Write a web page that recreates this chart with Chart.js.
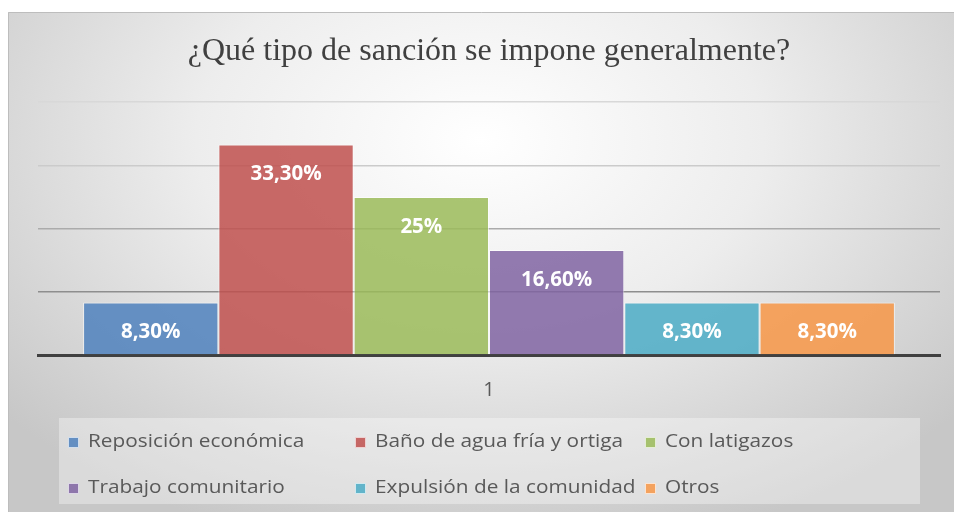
<!DOCTYPE html>
<html>
<head>
<meta charset="utf-8">
<script src="https://cdn.jsdelivr.net/npm/chart.js@4"></script>
<style>
  html, body { margin: 0; padding: 0; background: #d2d2d2; overflow: hidden; }
  #chart { display: block; width: 954px; height: 512px; }
</style>
</head>
<body>
<canvas id="chart" width="954" height="512"></canvas>
<script>
// data
const categories = ['1'];
const seriesNames = ['Reposición económica', 'Baño de agua fría y ortiga', 'Con latigazos',
  'Trabajo comunitario', 'Expulsión de la comunidad', 'Otros'];
const seriesValues = [0.083, 0.333, 0.25, 0.166, 0.083, 0.083];
const seriesColors = ['rgba(79,129,189,0.85)', 'rgba(192,80,77,0.85)', 'rgba(155,187,89,0.85)',
  'rgba(128,100,162,0.85)', 'rgba(75,172,198,0.85)', 'rgba(247,150,70,0.85)'];
const yTicks = [0, 0.1, 0.2, 0.3, 0.4];
const titleText = '¿Qué tipo de sanción se impone generalmente?';

const gridColors = { 0.1: '#8e8e8e', 0.2: '#ababab', 0.3: '#cbcbcb', 0.4: '#d8d8d8' };

function pctLabel(v) {
  const p = Math.round(v * 1000) / 10;
  if (Number.isInteger(p)) return p + '%';
  return p.toFixed(2).replace('.', ',') + '%';
}

// gray frame with a soft radial light, drawn under everything
const backgroundPlugin = {
  id: 'bg',
  beforeDraw(chart) {
    const ctx = chart.ctx;
    const w = chart.width, h = chart.height;
    ctx.save();
    ctx.fillStyle = '#ffffff';
    ctx.fillRect(0, 0, w, h);
    ctx.beginPath();
    ctx.rect(8, 12, w, h);
    ctx.clip();
    ctx.translate(480, 140);
    ctx.scale(1.5, 1);
    const g = ctx.createRadialGradient(0, 0, 0, 0, 0, 420);
    g.addColorStop(0, '#ffffff');
    g.addColorStop(0.45, '#ededed');
    g.addColorStop(1, '#c7c7c7');
    ctx.fillStyle = g;
    ctx.fillRect(-2000, -2000, 4000, 4000);
    ctx.restore();
    ctx.save();
    ctx.strokeStyle = '#bdbdbd';
    ctx.lineWidth = 1;
    ctx.beginPath();
    ctx.moveTo(8.5, h);
    ctx.lineTo(8.5, 12.5);
    ctx.lineTo(w, 12.5);
    ctx.stroke();
    ctx.restore();

    // title
    ctx.save();
    ctx.fillStyle = '#404040';
    ctx.font = '32px "Liberation Serif", "Times New Roman", serif';
    ctx.textAlign = 'center';
    ctx.textBaseline = 'alphabetic';
    ctx.fillText(titleText, (chart.chartArea.left + chart.chartArea.right) / 2, 60);
    ctx.restore();
  }
};

// value labels inside the top of each bar
const valueLabelPlugin = {
  id: 'valueLabels',
  afterDatasetsDraw(chart) {
    const ctx = chart.ctx;
    ctx.save();
    ctx.fillStyle = '#ffffff';
    ctx.font = 'bold 20.5px "Open Sans", sans-serif';
    ctx.textAlign = 'center';
    ctx.textBaseline = 'middle';
    chart.data.datasets.forEach((ds, i) => {
      chart.getDatasetMeta(i).data.forEach((bar, j) => {
        ctx.fillText(pctLabel(ds.data[j]), bar.x, bar.y + 30);
      });
    });
    ctx.restore();
  }
};

// legend laid out in fixed columns inside a light box
const legendPlugin = {
  id: 'boxLegend',
  afterDraw(chart) {
    const ctx = chart.ctx;
    ctx.save();
    ctx.fillStyle = 'rgba(255,255,255,0.35)';
    ctx.fillRect(59, 418, 861, 86);
    const cols = [68, 355, 645];
    const rows = [442, 488];
    ctx.font = '19px "Open Sans", sans-serif';
    ctx.textBaseline = 'middle';
    chart.data.datasets.forEach((ds, i) => {
      const x = cols[i % 3];
      const y = rows[Math.floor(i / 3)];
      ctx.fillStyle = ds.backgroundColor;
      ctx.fillRect(x, y - 5, 11, 11);
      ctx.strokeStyle = 'rgba(255,255,255,0.7)';
      ctx.lineWidth = 1;
      ctx.strokeRect(x + 0.5, y - 4.5, 10, 10);
      ctx.fillStyle = '#595959';
      ctx.save();
      ctx.translate(x + 20, y);
      ctx.scale(1.095, 1);
      ctx.fillText(ds.label, 0, 0);
      ctx.restore();
    });
    ctx.restore();
  }
};

new Chart(document.getElementById('chart'), {
  type: 'bar',
  data: {
    labels: categories,
    datasets: seriesNames.map((name, i) => ({
      label: name,
      data: [seriesValues[i]],
      backgroundColor: seriesColors[i],
      borderColor: 'rgba(255,255,255,0.6)',
      borderWidth: 1,
      categoryPercentage: 0.9,
      barPercentage: 1.0
    }))
  },
  options: {
    responsive: false,
    animation: false,
    layout: { padding: { left: 38, right: 14, top: 102, bottom: 0 } },
    plugins: {
      legend: { display: false },
      title: { display: false },
      tooltip: { enabled: false }
    },
    scales: {
      x: {
        grid: { display: false },
        border: { display: true, color: '#404040', width: 3 },
        ticks: { color: '#595959', font: { family: 'Open Sans', size: 20 }, padding: 15 },
        afterFit(scale) { scale.height = 157; }
      },
      y: {
        min: 0,
        max: 0.4,
        afterBuildTicks(scale) { scale.ticks = yTicks.map(v => ({ value: v })); },
        ticks: { display: false },
        border: { display: false },
        grid: {
          drawTicks: false,
          lineWidth: 1.5,
          color: ctx => gridColors[Math.round(ctx.tick.value * 10) / 10] || 'rgba(0,0,0,0)'
        },
        afterFit(scale) { scale.width = 0; }
      }
    }
  },
  plugins: [backgroundPlugin, valueLabelPlugin, legendPlugin]
});
</script>
</body>
</html>
